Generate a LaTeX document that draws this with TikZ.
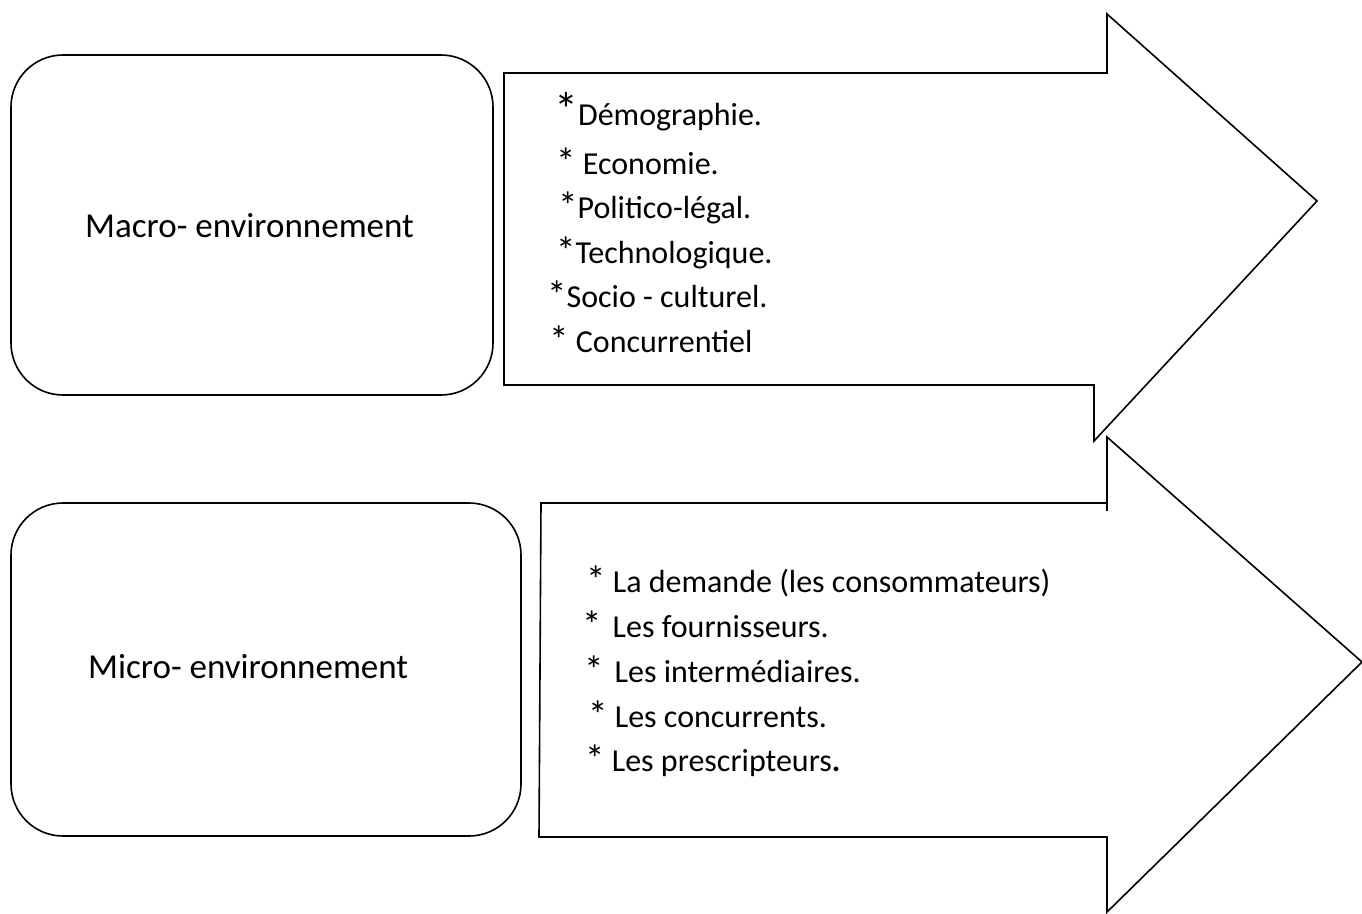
\documentclass[tikz,border=0pt]{standalone}
\usepackage{fontspec}
\setmainfont{Carlito}
% list asterisks, drawn a little larger than the running text
\newcommand\astk{{\fontsize{39}{39}\selectfont\raisebox{-1.5pt}{*}}}
\newcommand\astkbig{{\fontsize{48}{48}\selectfont\raisebox{-1pt}{*}}}
\begin{document}
\begin{tikzpicture}[x=1pt,y=-1pt,
  outline/.style={draw=black,line width=1.6pt,line join=miter},
  panel/.style={outline,rounded corners=52pt,inner sep=0pt},
  label/.style={anchor=base west,inner sep=0pt,font=\fontsize{35}{42}\selectfont},
  item/.style={anchor=base west,inner sep=0pt,font=\fontsize{32}{38}\selectfont}]
\useasboundingbox (0,0) rectangle (1362,913);

% rounded side panels
\node[panel,minimum width=482pt,minimum height=340pt] (macrobox) at (252,225) {};
\node[panel,minimum width=510pt,minimum height=333pt] (microbox) at (266,669.5) {};
\node[label] (macro) at (85,237) {Macro- environnement};
\node[label] (micro) at (88,678) {Micro- environnement};

% block arrows
\draw[outline] (504,73) -- (1107,73) -- (1107,14) -- (1317,201) -- (1094,441)
  -- (1094,385) -- (504,385) -- cycle;
\draw[outline] (541,503) -- (1107,503) -- (1107,437) -- (1362,662) -- (1107,912)
  -- (1107,837) -- (539,837) -- cycle;
\draw[outline] (1107,503) -- (1107,511);

% macro-environment factors
\node[item] (d1) at (554,125) {\astkbig Démographie.};
\node[item] (d2) at (556,174) {\astk\ Economie.};
\node[item] (d3) at (558,218) {\astk Politico-légal.};
\node[item] (d4) at (556,263) {\astk Technologique.};
\node[item] (d5) at (547,307) {\astk Socio - culturel.};
\node[item] (d6) at (549,352) {\astk\ Concurrentiel};

% micro-environment actors
\node[item] (m1) at (586,592) {\astk\ La demande (les consommateurs)};
\node[item] (m2) at (582,637) {\astk\hspace{11pt}Les fournisseurs.};
\node[item] (m3) at (584,682) {\astk\hspace{11pt}Les intermédiaires.};
\node[item] (m4) at (588,727) {\astk\ Les concurrents.};
\node[item] (m5) at (585,771) {\astk\ Les prescripteurs\textbf{.}};
\end{tikzpicture}
\end{document}
